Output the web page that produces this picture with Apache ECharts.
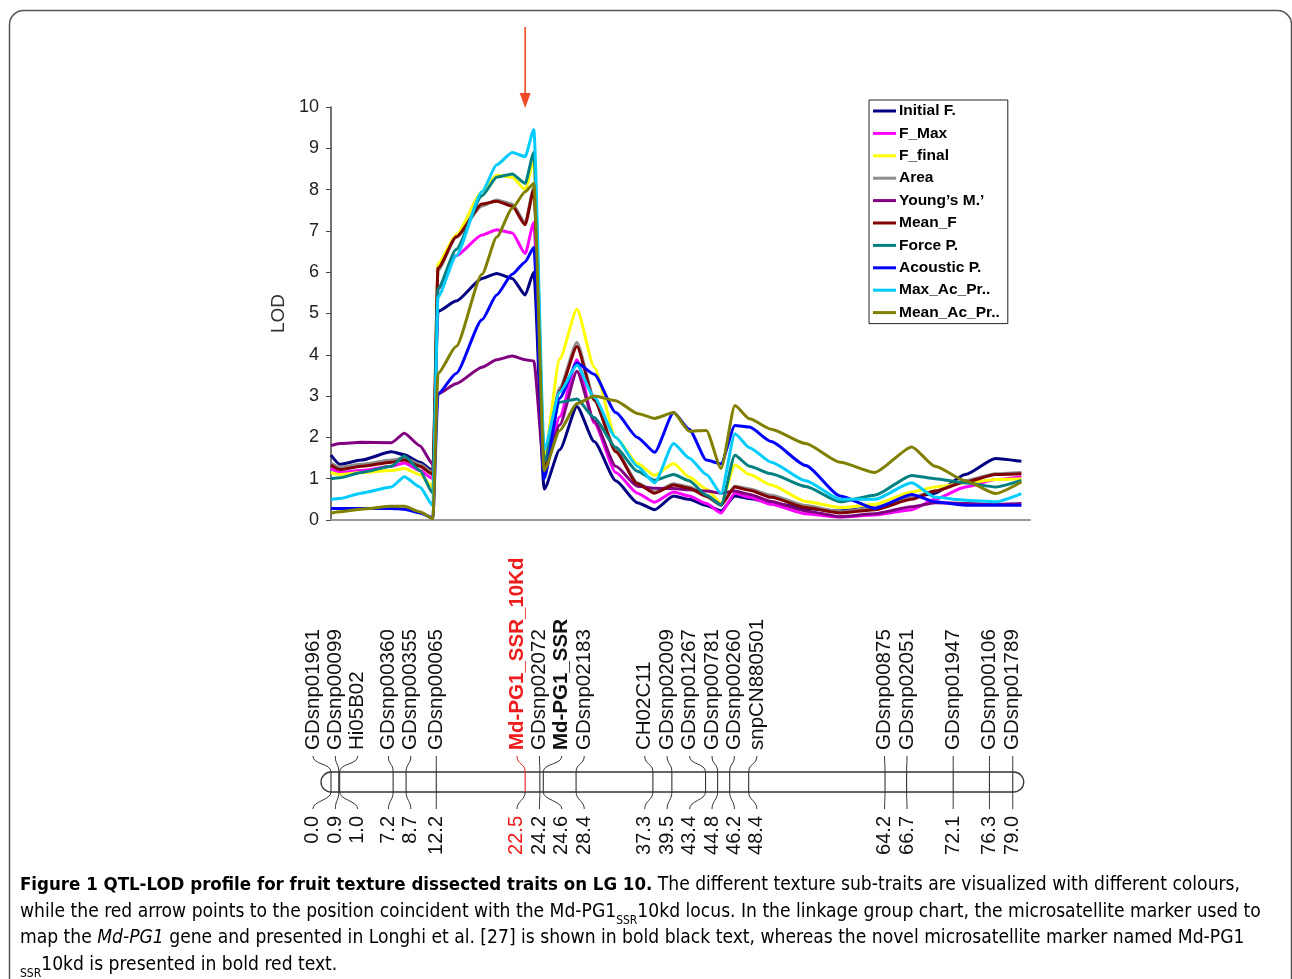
<!DOCTYPE html>
<html>
<head>
<meta charset="utf-8">
<script src="https://cdn.jsdelivr.net/npm/echarts@6/dist/echarts.min.js"></script>
<style>
  html, body { margin: 0; padding: 0; background: #fff; }
  #chart { width: 1292px; height: 979px; }
</style>
</head>
<body>
<div id="chart"></div>
<script>
// LOD profile: sample positions along LG 10 (cM)
var lodPos = [0, 1, 3.5, 7, 8.5, 10.3, 11.8, 12.4, 14.5, 17.5, 19.2, 21, 22.5, 23.5, 24.7, 26.5, 28.5, 30.5, 33, 35.5, 37.5, 39.7, 41.5, 43.5, 45.2, 46.8, 48.5, 51, 55, 59, 63, 67.3, 70, 73.5, 77, 80];

var initialF  = [1.57, 1.35, 1.45, 1.65, 1.58, 1.4, 1.2, 5.05, 5.3, 5.85, 5.97, 5.85, 5.45, 6.0, 0.75, 1.7, 2.75, 1.9, 0.95, 0.42, 0.25, 0.58, 0.5, 0.35, 0.22, 0.58, 0.52, 0.42, 0.28, 0.22, 0.3, 0.55, 0.65, 1.1, 1.49, 1.42];
var fMax      = [1.25, 1.15, 1.2, 1.3, 1.38, 1.2, 1.0, 5.6, 6.4, 6.9, 7.03, 6.95, 6.45, 7.2, 1.1, 2.5, 3.88, 2.35, 1.15, 0.65, 0.43, 0.68, 0.58, 0.4, 0.17, 0.65, 0.55, 0.38, 0.15, 0.07, 0.12, 0.25, 0.5, 0.8, 0.98, 1.05];
var fFinal    = [1.15, 1.1, 1.15, 1.2, 1.25, 1.1, 0.8, 6.2, 6.9, 7.95, 8.35, 8.3, 8.0, 8.7, 1.5, 3.9, 5.1, 3.7, 2.0, 1.37, 1.08, 1.37, 1.04, 0.75, 0.41, 1.33, 1.1, 0.85, 0.45, 0.3, 0.38, 0.68, 0.8, 0.9, 0.98, 1.0];
var area      = [1.38, 1.28, 1.35, 1.45, 1.5, 1.35, 1.15, 6.05, 6.85, 7.6, 7.75, 7.65, 7.2, 8.05, 1.35, 3.2, 4.3, 2.95, 1.7, 0.9, 0.68, 0.88, 0.8, 0.6, 0.38, 0.82, 0.75, 0.6, 0.35, 0.2, 0.3, 0.55, 0.7, 0.95, 1.12, 1.15];
var youngsM   = [1.8, 1.85, 1.88, 1.87, 2.1, 1.8, 1.35, 3.05, 3.3, 3.7, 3.88, 3.97, 3.88, 3.85, 1.2, 2.3, 3.6, 2.4, 1.3, 0.82, 0.77, 0.76, 0.73, 0.7, 0.65, 0.7, 0.62, 0.45, 0.22, 0.08, 0.15, 0.32, 0.42, 0.4, 0.38, 0.4];
var meanF     = [1.33, 1.22, 1.3, 1.4, 1.45, 1.3, 1.1, 6.1, 6.85, 7.65, 7.72, 7.6, 7.15, 8.0, 1.3, 3.13, 4.2, 2.9, 1.65, 0.88, 0.65, 0.85, 0.77, 0.57, 0.36, 0.8, 0.72, 0.55, 0.3, 0.17, 0.25, 0.5, 0.7, 0.92, 1.1, 1.12];
var forceP    = [1.0, 1.02, 1.15, 1.3, 1.55, 1.2, 0.65, 5.6, 6.55, 7.85, 8.3, 8.38, 8.15, 8.9, 1.4, 2.85, 2.93, 2.48, 1.76, 1.18, 0.96, 1.1, 0.95, 0.6, 0.36, 1.57, 1.3, 1.12, 0.81, 0.44, 0.6, 1.08, 1.0, 0.9, 0.8, 0.96];
var acousticP = [0.28, 0.28, 0.28, 0.28, 0.26, 0.17, 0.05, 3.05, 3.55, 4.85, 5.45, 5.95, 6.25, 6.6, 1.0, 2.95, 3.8, 3.53, 2.6, 2.0, 1.64, 2.6, 2.2, 1.45, 1.36, 2.29, 2.25, 1.9, 1.32, 0.58, 0.28, 0.62, 0.44, 0.36, 0.36, 0.36];
var maxAcPr   = [0.5, 0.52, 0.65, 0.8, 1.05, 0.8, 0.35, 5.4, 6.4, 7.95, 8.6, 8.9, 8.8, 9.45, 1.7, 3.1, 3.75, 2.97, 2.0, 1.3, 0.9, 1.85, 1.5, 1.1, 0.64, 2.09, 1.75, 1.4, 0.95, 0.5, 0.5, 0.9, 0.55, 0.48, 0.44, 0.64];
var meanAcPr  = [0.17, 0.2, 0.26, 0.33, 0.33, 0.2, 0.03, 3.55, 4.2, 5.95, 6.85, 7.55, 7.95, 8.15, 1.2, 2.17, 2.82, 3.0, 2.89, 2.58, 2.46, 2.6, 2.15, 2.17, 1.25, 2.77, 2.45, 2.2, 1.85, 1.4, 1.15, 1.77, 1.3, 0.95, 0.64, 0.92];

var traitNames = ['Initial F.', 'F_Max', 'F_final', 'Area', 'Young\u2019s M.\u2019', 'Mean_F', 'Force P.', 'Acoustic P.', 'Max_Ac_Pr..', 'Mean_Ac_Pr..'];
var traitValues = [initialF, fMax, fFinal, area, youngsM, meanF, forceP, acousticP, maxAcPr, meanAcPr];
var traitColors = ['#000080', '#ff00ff', '#ffff00', '#8c8c8c', '#800080', '#800000', '#008080', '#0000ff', '#00ccff', '#808000'];

// arrow: Md-PG1 SSR 10kd locus
var arrowPos = [22.5];

// linkage group 10 markers
var markerNames = ['GDsnp01961', 'GDsnp00099', 'Hi05B02', 'GDsnp00360', 'GDsnp00355', 'GDsnp00065', 'Md-PG1_SSR_10Kd', 'GDsnp02072', 'Md-PG1_SSR', 'GDsnp02183', 'CH02C11', 'GDsnp02009', 'GDsnp01267', 'GDsnp00781', 'GDsnp00260', 'snpCN880501', 'GDsnp00875', 'GDsnp02051', 'GDsnp01947', 'GDsnp00106', 'GDsnp01789'];
var markerPos = [0.0, 0.9, 1.0, 7.2, 8.7, 12.2, 22.5, 24.2, 24.6, 28.4, 37.3, 39.5, 43.4, 44.8, 46.2, 48.4, 64.2, 66.7, 72.1, 76.3, 79.0];
var redMarker = 'Md-PG1_SSR_10Kd';
var boldMarker = 'Md-PG1_SSR';

// pixel layout of the linkage bar
var MAP = { nameBase: 750, upper: 756, barTop: 772, barBottom: 792, lower: 809, numTop: 816 };
var FONT = "'Liberation Sans', Arial, sans-serif";

// spread labels so neighbours keep a minimum gap (cM units)
function spreadLabels(pos, gap) {
  var groups = pos.map(function (p, i) { return { lo: i, hi: i }; });
  function place(g) {
    var mid = (pos[g.lo] + pos[g.hi]) / 2;
    g.start = mid - (g.hi - g.lo) * gap / 2;
    g.end = g.start + (g.hi - g.lo) * gap;
  }
  groups.forEach(place);
  var merged = true;
  while (merged) {
    merged = false;
    for (var i = 0; i < groups.length - 1; i++) {
      if (groups[i].end + gap > groups[i + 1].start) {
        groups[i].hi = groups[i + 1].hi;
        place(groups[i]);
        groups.splice(i + 1, 1);
        merged = true;
        break;
      }
    }
  }
  var out = [];
  groups.forEach(function (g) {
    for (var k = g.lo; k <= g.hi; k++) out.push(g.start + (k - g.lo) * gap);
  });
  return out;
}
var labelPos = spreadLabels(markerPos, 2.6);

var chart = echarts.init(document.getElementById('chart'), null, { renderer: 'canvas' });

var lineSeries = traitNames.map(function (name, i) {
  return {
    name: name,
    type: 'line',
    xAxisIndex: 0,
    yAxisIndex: 0,
    data: lodPos.map(function (p, k) { return [p, traitValues[i][k]]; }),
    showSymbol: false,
    symbol: 'none',
    smooth: 0.2,
    smoothMonotone: 'x',
    color: traitColors[i],
    lineStyle: { width: 3, color: traitColors[i] },
    z: 2 + i
  };
});

function captionRich() {
  var fam = "'Liberation Sans Narrow', 'DejaVu Sans Condensed', 'Open Sans', sans-serif";
  return {
    b: { fontFamily: fam, fontWeight: 'bold', fontSize: 18.5, color: '#111', lineHeight: 24, verticalAlign: 'bottom' },
    r: { fontFamily: fam, fontSize: 19.1, color: '#3a3a3a', lineHeight: 24, verticalAlign: 'bottom' },
    i: { fontFamily: fam, fontStyle: 'italic', fontSize: 19.1, color: '#3a3a3a', lineHeight: 24, verticalAlign: 'bottom' },
    s: { fontFamily: fam, fontSize: 12, color: '#3a3a3a', lineHeight: 24, verticalAlign: 'bottom', padding: [0, 0, -5, 0] }
  };
}

var option = {
  animation: false,
  backgroundColor: '#fff',
  grid: [
    { left: 331, top: 107, width: 699, height: 413 },
    { left: 331, top: 560, width: 699, height: 300 }
  ],
  xAxis: [
    {
      type: 'value', gridIndex: 0, min: 0, max: 81,
      axisLine: { show: true, lineStyle: { color: '#9a9a9a', width: 2 } },
      axisTick: { show: false }, axisLabel: { show: false }, splitLine: { show: false }
    },
    { type: 'value', gridIndex: 1, min: 0, max: 81, show: false }
  ],
  yAxis: [
    {
      type: 'value', gridIndex: 0, min: 0, max: 10, interval: 1,
      name: 'LOD', nameLocation: 'middle', nameGap: 32,
      nameTextStyle: { fontFamily: FONT, fontSize: 19, color: '#333' },
      axisLine: { show: true, lineStyle: { color: '#444', width: 1.5 } },
      axisTick: { show: true, length: 5, lineStyle: { color: '#444' } },
      axisLabel: { fontFamily: FONT, fontSize: 18, color: '#222', margin: 12 },
      splitLine: { show: false }
    },
    { type: 'value', gridIndex: 1, min: 0, max: 1, show: false }
  ],
  legend: {
    data: traitNames,
    orient: 'vertical',
    left: 869, top: 100,
    icon: 'rect', itemWidth: 23, itemHeight: 3, itemGap: 6.4,
    padding: [3, 8, 3, 4],
    borderColor: '#222', borderWidth: 1, backgroundColor: '#fff',
    textStyle: { fontFamily: FONT, fontWeight: 'bold', fontSize: 15.5, color: '#000', lineHeight: 16, padding: [0, 0, 0, -2] }
  },
  series: lineSeries.concat([
    {
      type: 'custom', name: 'arrow', xAxisIndex: 0, yAxisIndex: 0, clip: false, silent: true, z: 20,
      data: arrowPos.map(function (p) { return [p, 10]; }),
      renderItem: function (params, api) {
        var p = api.coord([api.value(0), api.value(1)]);
        return {
          type: 'group', children: [
            { type: 'line', shape: { x1: p[0], y1: p[1] - 80, x2: p[0], y2: p[1] - 12 }, style: { stroke: '#f04a24', lineWidth: 1.6 } },
            { type: 'polygon', shape: { points: [[p[0] - 5.5, p[1] - 14], [p[0] + 5.5, p[1] - 14], [p[0], p[1] + 1]] }, style: { fill: '#f04a24' } }
          ]
        };
      }
    },
    {
      type: 'custom', name: 'bar', xAxisIndex: 1, yAxisIndex: 1, clip: false, silent: true,
      data: [[markerPos[0], markerPos[markerPos.length - 1]]],
      renderItem: function (params, api) {
        var x0 = api.coord([api.value(0), 0])[0] - 10;
        var x1 = api.coord([api.value(1), 0])[0] + 11;
        return {
          type: 'rect',
          shape: { x: x0, y: MAP.barTop, width: x1 - x0, height: MAP.barBottom - MAP.barTop, r: 10 },
          style: { fill: 'none', stroke: '#333', lineWidth: 1.3 }
        };
      }
    },
    {
      type: 'custom', name: 'markers', xAxisIndex: 1, yAxisIndex: 1, clip: false, silent: true,
      data: markerPos.map(function (p, i) { return [p, labelPos[i]]; }),
      renderItem: function (params, api) {
        var i = params.dataIndex;
        var x = api.coord([api.value(0), 0])[0];
        var lx = api.coord([api.value(1), 0])[0];
        var name = markerNames[i];
        var isRed = name === redMarker;
        var isBold = isRed || name === boldMarker;
        var stroke = isRed ? '#ee2222' : '#333';
        var txtColor = isRed ? '#ee1c1c' : '#111';
        return {
          type: 'group', children: [
            { type: 'bezierCurve', shape: { x1: lx, y1: MAP.upper, cpx1: lx, cpy1: MAP.upper + 9, cpx2: x, cpy2: MAP.barTop - 9, x2: x, y2: MAP.barTop }, style: { fill: 'none', stroke: stroke, lineWidth: 1 } },
            { type: 'line', shape: { x1: x, y1: MAP.barTop, x2: x, y2: MAP.barBottom }, style: { stroke: stroke, lineWidth: 1.1 } },
            { type: 'bezierCurve', shape: { x1: x, y1: MAP.barBottom, cpx1: x, cpy1: MAP.barBottom + 8, cpx2: lx, cpy2: MAP.lower - 8, x2: lx, y2: MAP.lower }, style: { fill: 'none', stroke: '#333', lineWidth: 1 } },
            {
              type: 'text', x: lx, y: MAP.nameBase, rotation: Math.PI / 2,
              style: { text: name, fontFamily: FONT, fontSize: 20.5, fontWeight: isBold ? 'bold' : 'normal', fill: txtColor, align: 'left', verticalAlign: 'middle' }
            },
            {
              type: 'text', x: lx, y: MAP.numTop, rotation: Math.PI / 2,
              style: { text: api.value(0).toFixed(1), fontFamily: FONT, fontSize: 20, fill: txtColor, align: 'right', verticalAlign: 'middle' }
            }
          ]
        };
      }
    }
  ]),
  graphic: [
    {
      type: 'rect', silent: true, z: -10,
      shape: { x: 9.5, y: 10.5, width: 1282, height: 1000, r: 14 },
      style: { fill: 'none', stroke: '#555', lineWidth: 1.5 }
    },
    {
      type: 'group', left: 20, top: 876, silent: true,
      children: [
        {
          type: 'text', x: 0, y: 0,
          style: {
            text: '{b|Figure 1 QTL-LOD profile for fruit texture dissected traits on LG 10.}{r| The different texture sub-traits are visualized with different colours,}',
            rich: captionRich()
          }
        },
        {
          type: 'text', x: 0, y: 26.5,
          style: {
            text: '{r|while the red arrow points to the position coincident with the Md-PG1}{s|SSR}{r|10kd locus. In the linkage group chart, the microsatellite marker used to}',
            rich: captionRich()
          }
        },
        {
          type: 'text', x: 0, y: 53,
          style: {
            text: '{r|map the }{i|Md-PG1}{r| gene and presented in Longhi et al. [27] is shown in bold black text, whereas the novel microsatellite marker named Md-PG1}',
            rich: captionRich()
          }
        },
        {
          type: 'text', x: 0, y: 79.5,
          style: {
            text: '{s|SSR}{r|10kd is presented in bold red text.}',
            rich: captionRich()
          }
        }
      ]
    }
  ]
};

chart.setOption(option);
</script>
</body>
</html>
